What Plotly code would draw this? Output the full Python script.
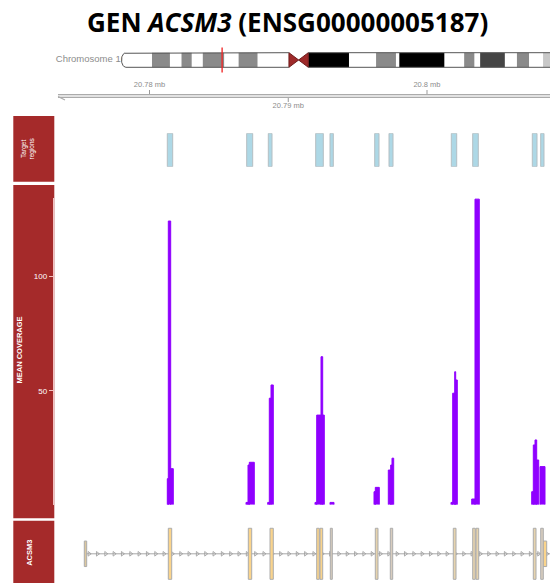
import numpy as np
import plotly.graph_objects as go

W, H = 550, 583

# ---------------- data ----------------
gene_symbol = "ACSM3"
gene_id = "ENSG00000005187"
chrom_label = "Chromosome 16"

# chromosome 16 cytobands (Mb)
band_start = [0.0, 6.3, 10.0, 12.4, 14.5, 16.8, 21.2, 24.2, 28.1, 38.6, 47.0, 52.6,
              56.7, 57.4, 66.7, 70.8, 72.9, 74.1, 79.2, 81.7, 84.2, 87.1, 88.7]
band_end = [6.3, 10.0, 12.4, 14.5, 16.8, 21.2, 24.2, 28.1, 34.6, 47.0, 52.6, 56.7,
            57.4, 66.7, 70.8, 72.9, 74.1, 79.2, 81.7, 84.2, 87.1, 88.7, 90.35]
band_stain = ["gneg", "gpos50", "gneg", "gpos50", "gneg", "gpos50", "gneg", "gpos50",
              "gneg", "gvar", "gneg", "gpos50", "gneg", "gpos100", "gneg", "gpos50",
              "gneg", "gpos75", "gneg", "gpos50", "gneg", "gpos25", "gneg"]
centromere_mb = [34.6, 36.6, 38.6]
region_mb = [20.7732, 20.8089]

# genome axis (kb)
axis_tick_pos = [20780, 20790, 20800]
axis_tick_text = ["20.78 mb", "20.79 mb", "20.8 mb"]

# target regions (kb)
target_start = [20781.283, 20787.005, 20788.562, 20791.978, 20793.009, 20796.231,
                20797.261, 20801.751, 20803.294, 20807.589, 20808.195]
target_end = [20781.672, 20787.438, 20788.829, 20792.526, 20793.247, 20796.541,
              20797.550, 20802.141, 20803.697, 20807.928, 20808.432]

# mean coverage (kb segments)
cov_start = [20781.283, 20781.355, 20781.528,
             20786.955, 20787.099, 20787.193,
             20788.519, 20788.634, 20788.757,
             20791.928, 20792.050, 20792.360, 20792.483,
             20793.009,
             20796.180, 20796.274,
             20797.211, 20797.384, 20797.477,
             20801.730, 20801.852, 20801.996, 20802.068,
             20803.222, 20803.459,
             20807.546, 20807.661, 20807.784, 20807.906, 20808.144]
cov_end = [20781.355, 20781.528, 20781.715,
           20787.099, 20787.193, 20787.553,
           20788.634, 20788.757, 20788.923,
           20792.050, 20792.360, 20792.483, 20792.598,
           20793.297,
           20796.274, 20796.562,
           20797.384, 20797.477, 20797.600,
           20801.852, 20801.996, 20802.068, 20802.184,
           20803.459, 20803.769,
           20807.661, 20807.784, 20807.906, 20808.050, 20808.505]
cov_mean = [11.4, 124.4, 15.8,
            1.0, 17.4, 18.6,
            1.0, 46.7, 52.5,
            1.0, 39.3, 64.9, 39.3,
            1.0,
            5.7, 7.6,
            15.2, 17.4, 20.4,
            1.0, 48.9, 58.3, 54.7,
            2.5, 134.0,
            5.7, 26.2, 28.4, 19.6, 16.7]
cov_ticks = [50, 100]

# gene model (kb)
gene_start, gene_end = 20775.35, 20810.0
exon_start = [20775.301, 20781.355, 20787.121, 20788.685, 20792.050, 20792.288,
              20793.031, 20796.274, 20797.355, 20801.895, 20803.294, 20803.532,
              20807.661, 20808.195, 20808.267]
exon_end = [20775.474, 20781.600, 20787.366, 20788.923, 20792.238, 20792.483,
            20793.175, 20796.468, 20797.528, 20802.090, 20803.481, 20803.726,
            20807.856, 20808.382, 20808.627]
exon_part = ["utr", "cds", "cds", "cds", "cds", "cds", "cds", "cds", "cds", "cds",
             "cds", "cds", "cds", "cds", "utr"]

# ---------------- styling ----------------
exon_shade = ["tan", "orange", "orange", "orange", "orange", "orange", "grey", "beige",
              "grey", "beige", "beige", "beige", "beige", "grey", "orange"]
shade_fill = {"orange": "#FAD48C", "beige": "#E6D3AE", "tan": "#DCC79E", "grey": "#D8CDBF"}
stain_col = {"gneg": "#FFFFFF", "gpos25": "#C8C8C8", "gpos50": "#8A8A8A",
             "gpos75": "#454545", "gpos100": "#000000", "gvar": "#000000"}
BROWN = "#A52A2A"
PURPLE = "#8F00FF"


def py(p):  # pixel row -> paper y
    return 1 - p / H


def pxx(p):  # pixel col -> paper x
    return p / W


X0_PX = 55
KB_PER_PX = 1 / 13.875
x_range = [20780 + (X0_PX - 149.5) * KB_PER_PX, 20780 + (W - 149.5) * KB_PER_PX]
MB_PER_PX = 1 / 4.84
x2_range = [(X0_PX - 121.5) * MB_PER_PX, (W - 121.5) * MB_PER_PX]

fig = go.Figure()


def rects(starts, ends, lo, hi):
    xs, ys = [], []
    for s, e, a, b in zip(starts, ends, lo, hi):
        xs += [s, e, e, s, s, None]
        ys += [a, a, b, b, a, None]
    return xs, ys


# ---------------- ideogram ----------------
IH = 7.3
cap = 0.9
t = np.linspace(np.pi / 2, 3 * np.pi / 2, 25)
arc_x = list(cap + cap * np.cos(t))
arc_y = list(IH * np.sin(t))
fig.add_trace(go.Scatter(x=[0.93], y=[0], mode="text", text=[chrom_label],
                         textposition="middle left",
                         textfont=dict(family="Liberation Sans, Arial", size=9.5, color="#8C8C8C"),
                         xaxis="x2", yaxis="y4", hoverinfo="skip", showlegend=False))
parm_x = [centromere_mb[0], cap] + arc_x + [cap, centromere_mb[0]]
parm_y = [IH, IH] + arc_y + [-IH, -IH]
fig.add_trace(go.Scatter(x=parm_x, y=parm_y, fill="toself", fillcolor="white", mode="none",
                         xaxis="x2", yaxis="y4", hoverinfo="skip", showlegend=False))
for stain, col in stain_col.items():
    ss = [max(s, cap) for s, st in zip(band_start, band_stain) if st == stain]
    ee = [e for e, st in zip(band_end, band_stain) if st == stain]
    if not ss:
        continue
    bx, by = rects(ss, ee, [-IH] * len(ss), [IH] * len(ss))
    fig.add_trace(go.Scatter(x=bx, y=by, fill="toself", fillcolor=col, mode="none",
                             xaxis="x2", yaxis="y4", hoverinfo="skip", showlegend=False))
c0, cm, c1 = centromere_mb
fig.add_trace(go.Scatter(x=[c0, cm, c1, c1, cm, c0, c0], y=[IH, 0, IH, -IH, 0, -IH, IH],
                         fill="toself", fillcolor="#9E2A2A", mode="lines",
                         line=dict(color="#6E1C1C", width=1),
                         xaxis="x2", yaxis="y4", hoverinfo="skip", showlegend=False))
fig.add_trace(go.Scatter(x=parm_x, y=parm_y, mode="lines", line=dict(color="#555555", width=1),
                         xaxis="x2", yaxis="y4", hoverinfo="skip", showlegend=False))
fig.add_trace(go.Scatter(x=[c1, band_end[-1], None, c1, band_end[-1]], y=[IH, IH, None, -IH, -IH],
                         mode="lines", line=dict(color="#555555", width=1),
                         xaxis="x2", yaxis="y4", hoverinfo="skip", showlegend=False))
region_mid = sum(region_mb) / 2
fig.add_trace(go.Scatter(x=[region_mid, region_mid], y=[-12.5, 12.5], mode="lines",
                         line=dict(color="rgba(240,40,40,0.85)", width=1.6),
                         xaxis="x2", yaxis="y4", hoverinfo="skip", showlegend=False))

# ---------------- genome axis ----------------
ax_start = x_range[0] + 3 * KB_PER_PX
fig.add_trace(go.Scatter(x=[ax_start, x_range[1] + 1], y=[0, 0], mode="lines",
                         line=dict(color="#ABABAB", width=4),
                         xaxis="x", yaxis="y5", hoverinfo="skip", showlegend=False))
fig.add_trace(go.Scatter(x=[ax_start, x_range[1] + 1], y=[0, 0], mode="lines",
                         line=dict(color="#E2E2E2", width=2),
                         xaxis="x", yaxis="y5", hoverinfo="skip", showlegend=False))
fig.add_trace(go.Scatter(x=[ax_start, ax_start + 7 * KB_PER_PX], y=[-0.5, -4], mode="lines",
                         line=dict(color="#ABABAB", width=1.2),
                         xaxis="x", yaxis="y5", hoverinfo="skip", showlegend=False))
tkx, tky, lx, ly = [], [], [], []
for i, p in enumerate(axis_tick_pos):
    sgn = 1 if i % 2 == 0 else -1
    tkx += [p, p, None]
    tky += [sgn * 2, sgn * 6, None]
    lx.append(p)
    ly.append(11 if sgn > 0 else -10)
fig.add_trace(go.Scatter(x=tkx, y=tky, mode="lines", line=dict(color="#999999", width=1),
                         xaxis="x", yaxis="y5", hoverinfo="skip", showlegend=False))
fig.add_trace(go.Scatter(x=lx, y=ly, mode="text", text=axis_tick_text,
                         textfont=dict(family="Liberation Sans, Arial", size=7.5, color="#8C8C8C"),
                         xaxis="x", yaxis="y5", hoverinfo="skip", showlegend=False))

# ---------------- target regions ----------------
tx, ty = rects(target_start, target_end, [0] * len(target_start), [1] * len(target_start))
fig.add_trace(go.Scatter(x=tx, y=ty, fill="toself", fillcolor="#ADD8E6", mode="lines",
                         line=dict(color="#B4BEC2", width=1),
                         xaxis="x", yaxis="y2", hoverinfo="skip", showlegend=False))

# ---------------- coverage ----------------
cx, cy = [], []
for s, e, v in zip(cov_start, cov_end, cov_mean):
    cx += [s, s, e, e, None]
    cy += [0, v, v, 0, None]
fig.add_trace(go.Scatter(x=cx, y=cy, fill="toself", fillcolor=PURPLE, mode="lines",
                         line=dict(color=PURPLE, width=1),
                         xaxis="x", yaxis="y", hoverinfo="skip", showlegend=False))

# ---------------- gene model ----------------
fig.add_trace(go.Scatter(x=[gene_start, gene_end], y=[0, 0], mode="lines",
                         line=dict(color="#A8A8A8", width=1),
                         xaxis="x", yaxis="y3", hoverinfo="skip", showlegend=False))
chev = np.arange(gene_start + 0.3, gene_end, 0.6)
fig.add_trace(go.Scatter(x=chev, y=[0] * len(chev), mode="markers",
                         marker=dict(symbol="triangle-right-open", size=4,
                                     color="#9A9A9A", line=dict(width=0.8, color="#9A9A9A")),
                         xaxis="x", yaxis="y3", hoverinfo="skip", showlegend=False))
for shade, col in shade_fill.items():
    idx = [i for i, s in enumerate(exon_shade) if s == shade]
    if not idx:
        continue
    hh = [1.0 if exon_part[i] == "cds" else 0.5 for i in idx]
    ex, ey = rects([exon_start[i] for i in idx], [exon_end[i] for i in idx],
                   [-h for h in hh], hh)
    fig.add_trace(go.Scatter(x=ex, y=ey, fill="toself", fillcolor=col, mode="lines",
                             line=dict(color="#ACACAC", width=1),
                             xaxis="x", yaxis="y3", hoverinfo="skip", showlegend=False))

# ---------------- panels ----------------
shapes = []
for top, bot in [(116, 181.7), (185, 518.3), (520.7, 590)]:
    shapes.append(dict(type="rect", xref="paper", yref="paper", layer="below",
                       x0=pxx(13.3), x1=pxx(54.3), y0=py(bot), y1=py(top),
                       fillcolor=BROWN, line=dict(width=0)))

lab_font = dict(family="Liberation Sans, Arial", color="white")
annotations = [
    dict(text="<b>GEN <i>%s</i> (%s)</b>" % (gene_symbol, gene_id), xref="paper", yref="paper",
         x=pxx(287), y=py(22), xanchor="center", yanchor="middle", showarrow=False,
         font=dict(family="Open Sans", size=26, color="black")),
    dict(text="Target<br>regions", xref="paper", yref="paper", x=pxx(27.5), y=py(149),
         textangle=-90, showarrow=False, xanchor="center", yanchor="middle",
         font=dict(size=6.5, **lab_font)),
    dict(text="<b>MEAN COVERAGE</b>", xref="paper", yref="paper", x=pxx(19), y=py(350.5),
         textangle=-90, showarrow=False, xanchor="center", yanchor="middle",
         font=dict(size=7.5, **lab_font)),
    dict(text="<b>%s</b>" % gene_symbol, xref="paper", yref="paper", x=pxx(29.3), y=py(552.5),
         textangle=-90, showarrow=False, xanchor="center", yanchor="middle",
         font=dict(size=7.5, **lab_font)),
]

hidden = dict(visible=False, showgrid=False, zeroline=False, fixedrange=True)
fig.update_layout(
    width=W, height=H, margin=dict(l=0, r=0, t=0, b=0),
    paper_bgcolor="white", plot_bgcolor="white", showlegend=False,
    xaxis=dict(domain=[pxx(X0_PX), 1], range=x_range, anchor="y3", **hidden),
    xaxis2=dict(domain=[pxx(X0_PX), 1], range=x2_range, anchor="y4", **hidden),
    yaxis=dict(domain=[py(504.7), py(198)], range=[0, 134.5], anchor="free",
               position=pxx(52.7), showline=True, linecolor="rgba(255,220,220,0.85)",
               linewidth=1, ticks="outside", ticklen=4, tickcolor="rgba(255,220,220,0.85)",
               tickvals=cov_ticks, tickfont=dict(family="Liberation Sans, Arial", size=8,
                                                 color="white"),
               showgrid=False, zeroline=False, fixedrange=True),
    yaxis2=dict(domain=[py(166.7), py(133.3)], range=[0, 1], anchor="x", **hidden),
    yaxis3=dict(domain=[py(580.6), py(527)], range=[-1.05, 1.05], anchor="x", **hidden),
    yaxis4=dict(domain=[py(74), py(46)], range=[-14, 14], anchor="x2", **hidden),
    yaxis5=dict(domain=[py(112), py(80)], range=[-16, 16], anchor="x", **hidden),
    shapes=shapes, annotations=annotations,
)

fig.write_html("out.html", config={"displayModeBar": False},
               post_script="document.body.style.margin='0';document.body.style.overflow='hidden';")
